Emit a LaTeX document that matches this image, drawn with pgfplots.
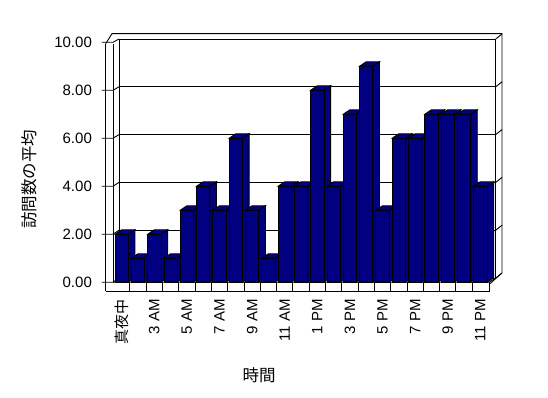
\documentclass[border=0pt]{standalone}
\usepackage{fontspec}
\setmainfont{Liberation Sans}
\newfontfamily\jp{Noto Sans CJK JP}
\usepackage{pgfplots}
\pgfplotsset{compat=1.18}
\definecolor{barblue}{RGB}{0,0,128}
\pgfdeclareplotmark{blank}{}
\begin{document}
\begin{tikzpicture}
\useasboundingbox (0,0) rectangle (548pt,398pt);
\fill[white] (0,0) rectangle (548pt,398pt);
% ---- walls and floor (frame, pixel coordinates) ----
\begin{scope}[yshift=398pt, x=1pt, y=-1pt, line width=0.9pt, line join=miter]
  % back wall face
  \draw (119,39) rectangle (495.7,278);
  % gridlines on back wall + connectors over left wall
  \foreach \k in {0,...,5}{
    \pgfmathsetmacro\yf{282.3-48*\k}
    \pgfmathsetmacro\yb{278-47.8*\k}
    \draw (119,\yb) -- (495.7,\yb);
    \draw (101.7,\yf) -- (113,\yf) -- (119,\yb);
    \draw (495.7,\yb) -- (502,\yb-5);
  }
  % top thickness
  \draw (105.7,43.7) -- (112,33.7) -- (502,33.7) -- (502,273);
  \draw (502,273) -- (489,284.5);
  % left wall
  \draw (105.7,43.7) -- (105.7,291.3);
  \draw (113,43.7) -- (113,282.3);
  % floor
  \draw (113,282.3) -- (489,282.3) -- (495.7,278);
  \draw (105.7,291.3) -- (489,291.3) -- (489,282.3);
\end{scope}
\begin{axis}[
  at={(113.55pt,115.7pt)}, anchor=south west,
  x=16.3pt, y=24pt,
  xmin=-0.5, xmax=22.5, ymin=0, ymax=10,
  clip=false,
  axis line style={draw=none},
  tick align=outside,
  xtick pos=bottom, ytick pos=left,
  major tick length=0pt,
  minor tick length=9pt,
  minor x tick style={black, line width=0.9pt},
  ytick={0,2,...,10},
  xtick={0,2,...,22},
  minor xtick={0.5,1.5,...,21.5},
  xticklabels={{\jp 真夜中},3 AM,5 AM,7 AM,9 AM,11 AM,1 PM,3 PM,5 PM,7 PM,9 PM,11 PM},
  xticklabel style={rotate=90, anchor=east, inner sep=0pt, font=\fontsize{15}{18}\selectfont},
  xticklabel shift=16.7pt,
  yticklabel style={anchor=east, inner sep=0pt, xshift=-21.5pt, font=\fontsize{15}{18}\selectfont,
    /pgf/number format/.cd, fixed, fixed zerofill, precision=2, assume math mode=true},
  xlabel={\jp 時間},
  ylabel={\jp 訪問数の平均},
  xlabel style={at={(rel axis cs:0.388,-0.386)}, anchor=center, font=\fontsize{16.5}{19}\selectfont},
  ylabel style={at={(rel axis cs:-0.226,0.43)}, anchor=center, font=\fontsize{16.5}{19}\selectfont},
]
\addplot[scatter, only marks, mark=blank,
  visualization depends on={rawy \as \barval},
  scatter/@pre marker code/.code={%
    \pgfkeys{/pgf/fpu=false}%
    \pgfmathsetmacro{\bh}{\barval*24}%
    \scope[draw=black, fill=barblue, line width=0.9pt, line join=miter]
    \filldraw (6.65pt,0pt) -- (13.25pt,4.5pt) -- (13.25pt,4.5pt-\bh pt) -- (6.65pt,-\bh pt) -- cycle;
    \filldraw (-6.65pt,0pt) -- (-0.05pt,4.5pt) -- (13.25pt,4.5pt) -- (6.65pt,0pt) -- cycle;
    \filldraw (-6.65pt,-\bh pt) rectangle (6.65pt,0pt);
  },
  scatter/@post marker code/.code={\endscope},
] table {
x y
0 2
1 1
2 2
3 1
4 3
5 4
6 3
7 6
8 3
9 1
10 4
11 4
12 8
13 4
14 7
15 9
16 3
17 6
18 6
19 7
20 7
21 7
22 4
};
\end{axis}
\end{tikzpicture}
\end{document}
